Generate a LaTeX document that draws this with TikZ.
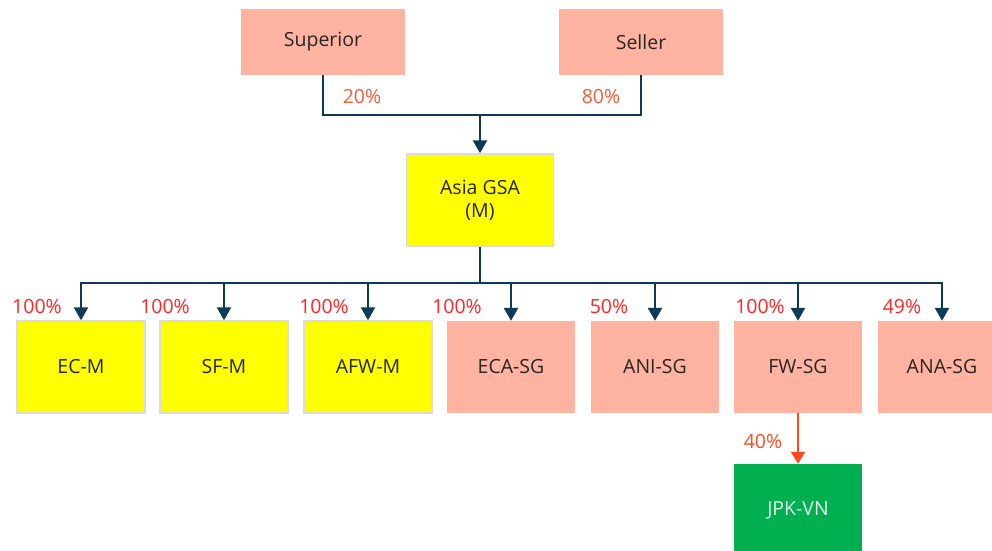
\documentclass[tikz,border=0pt]{standalone}
\usepackage{fontspec}
\setmainfont{Open Sans}
\usetikzlibrary{arrows.meta,positioning}
\definecolor{salmon}{HTML}{FFB3A0}
\definecolor{gsayellow}{HTML}{FFFF00}
\definecolor{vngreen}{HTML}{00B050}
\definecolor{linkblue}{HTML}{0D3B55}
\definecolor{pctred}{HTML}{FF2424}
\definecolor{pctorange}{HTML}{F65A32}
\definecolor{vnarrow}{HTML}{FF4A1E}

\begin{document}
\begin{tikzpicture}[x=1pt, y=-1pt,
    box/.style={minimum width=128pt, minimum height=92pt, inner sep=0pt,
        font=\fontsize{19.5}{23}\selectfont, text=black!85, align=center},
    sg/.style={box, fill=salmon},
    mm/.style={box, fill=gsayellow, draw=black!14, line width=1.5pt},
    pct/.style={font=\fontsize{19.5}{23}\selectfont, text=pctred},
    link/.style={draw=linkblue, line width=2.6pt},
    arr/.style={link, -{Triangle[width=14pt,length=13pt]}}]
    \useasboundingbox (0,0) rectangle (992,550);

    % owners
    \node[sg, minimum width=164pt, minimum height=66pt] (sup) at (323,42) {Superior};
    \node[sg, minimum width=164pt, minimum height=66pt] (sel) at (641,42) {Seller};
    \node[mm, minimum width=147pt] (gsa) at (480,200) {Asia GSA\\(M)};
    \coordinate (top) at (480,115);
    \coordinate (bus) at (480,283);

    % subsidiaries
    \node[mm] (ec) at (81,367) {EC-M};
    \node[mm] (sf) at (224,367) {SF-M};
    \node[mm] (afw) at (368,367) {AFW-M};
    \node[sg] (eca) at (511,367) {ECA-SG};
    \node[sg] (ani) at (655,367) {ANI-SG};
    \node[sg] (fw) at (798,367) {FW-SG};
    \node[sg] (ana) at (942,367) {ANA-SG};
    \node[box, fill=vngreen, text=white!90!vngreen] (jpk) at (798,510) {JPK-VN};

    \draw[link] (sup) |- (top);
    \draw[link] (sel) |- (top);
    \draw[arr] (top) -- (gsa);
    \draw[link] (gsa) -- (bus);
    \draw[arr] (bus) -| (ec);
    \draw[arr] (bus) -| (sf);
    \draw[arr] (bus) -| (afw);
    \draw[arr] (bus) -| (eca);
    \draw[arr] (bus) -| (ani);
    \draw[arr] (bus) -| (fw);
    \draw[arr] (bus) -| (ana);
    \draw[draw=vnarrow, line width=2pt, -{Triangle[width=14pt,length=12pt]}] (fw) -- (jpk);

    % shares
    \node[pct, text=pctorange] (p20) at (362,97) {20\%};
    \node[pct, text=pctorange] (p80) at (601,97) {80\%};
    \node[pct] (pec) at (37,307) {100\%};
    \node[pct] (psf) at (165,307) {100\%};
    \node[pct] (pafw) at (324,307) {100\%};
    \node[pct] (peca) at (457,307) {100\%};
    \node[pct] (pani) at (609,307) {50\%};
    \node[pct] (pfw) at (760,307) {100\%};
    \node[pct] (pana) at (902,307) {49\%};
    \node[pct, text=vnarrow] (p40) at (763,442) {40\%};
\end{tikzpicture}
\end{document}
